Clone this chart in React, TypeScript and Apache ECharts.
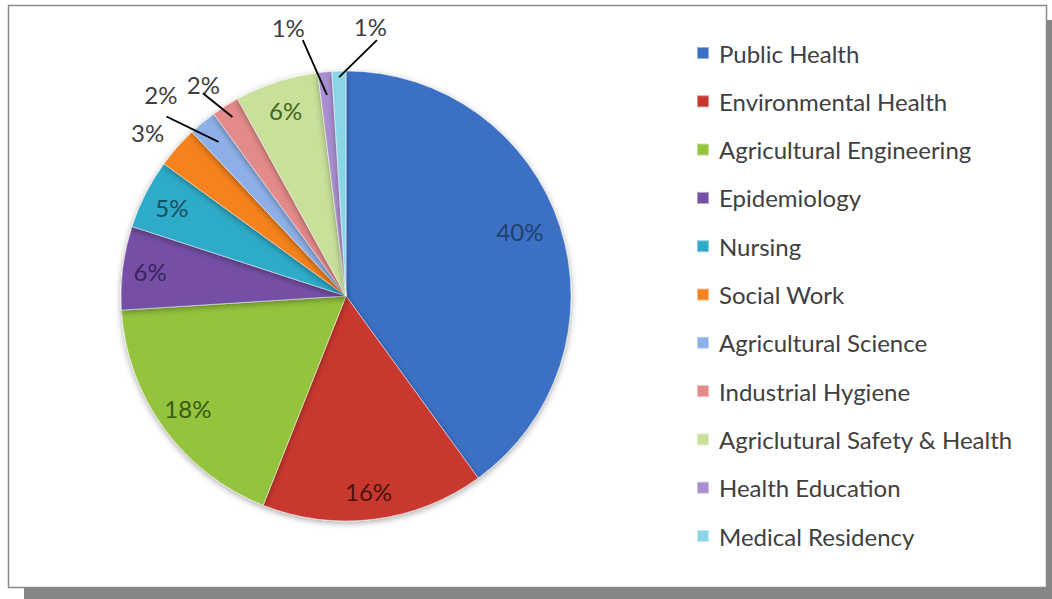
import React, { useEffect, useRef } from "react";
import * as echarts from "echarts";

const categories = [
  "Public Health",
  "Environmental Health",
  "Agricultural Engineering",
  "Epidemiology",
  "Nursing",
  "Social Work",
  "Agricultural Science",
  "Industrial Hygiene",
  "Agriclutural Safety & Health",
  "Health Education",
  "Medical Residency",
];
const shares = [40, 16, 18, 6, 5, 3, 2, 2, 6, 1, 1];
const sliceColors = [
  "#3a6fc4",
  "#c8372f",
  "#94c43c",
  "#7550a5",
  "#2eabc8",
  "#f5821e",
  "#8eb0e8",
  "#e38a8a",
  "#c8e09a",
  "#a98fd0",
  "#8ad6e6",
];
const labelColors = [
  "#20406e",
  "#4a1410",
  "#3b5a12",
  "#3a2460",
  "#174f5e",
  "#404040",
  "#404040",
  "#404040",
  "#46661c",
  "#404040",
  "#404040",
];
// label placement: null = inside the slice, number = outside with that line length
const outsideLineLen: (number | null)[] = [null, null, null, null, null, 8, 30, 14, null, 32, 32];
const showLeader = [false, false, false, false, false, false, true, true, false, true, true];
const lineInset = [0, 0, 0, 0, 0, 0, 25, 13, 0, 23, 6];
const labelNudge: [number, number][] = [
  [-12, -4], [-2, 2], [0, -2], [-2, 0], [0, 0],
  [-2, -9], [-1, -5], [7, -10], [0, 0], [-12, -13], [54, -13],
];
const lineEndNudge: [number, number][] = [
  [0, 0], [0, 0], [0, 0], [0, 0], [0, 0],
  [0, 0], [-17, 17], [-15, -1], [0, 0], [-19, 0], [39, 1],
];

const CX = 346;
const CY = 296;
const R = 225;

export default function App() {
  const ref = useRef<HTMLDivElement>(null);
  useEffect(() => {
    if (!ref.current) return;
    const chart = echarts.init(ref.current, null, { renderer: "svg" });
    const font = "Lato, 'Open Sans', sans-serif";
    const total = shares.reduce((a, b) => a + b, 0);
    const mainData = categories.map((name, i) => ({
      name,
      value: shares[i],
      itemStyle: { color: sliceColors[i] },
    }));
    const labelData = categories.map((name, i) => {
      const isOut = outsideLineLen[i] != null;
      return {
        name,
        value: shares[i],
        label: {
          position: isOut ? "outside" : "inside",
          color: labelColors[i],
        },
        labelLine: {
          show: false,
          length: outsideLineLen[i] ?? 10,
          length2: 0,
        },
      };
    });
    // leader lines for the small slices, derived from the slice mid-angles
    const leaders: any[] = [];
    let cum = 0;
    shares.forEach((v, i) => {
      const mid = ((cum + v / 2) / total) * Math.PI * 2;
      cum += v;
      if (!showLeader[i]) return;
      const dx = Math.sin(mid);
      const dy = -Math.cos(mid);
      const L = outsideLineLen[i] ?? 0;
      const s = lineInset[i];
      const e = lineEndNudge[i];
      leaders.push({
        type: "line",
        z: 20,
        shape: {
          x1: CX + dx * (R - s),
          y1: CY + dy * (R - s),
          x2: CX + dx * (R + L) + e[0],
          y2: CY + dy * (R + L) + e[1],
        },
        style: { stroke: "#000000", lineWidth: 1.8 },
      });
    });
    chart.setOption({
      animation: false,
      backgroundColor: "#ffffff",
      graphic: [
        {
          type: "rect",
          shape: { x: 24, y: 588, width: 1028, height: 11 },
          style: { fill: "#858585" },
          z: -10,
        },
        {
          type: "rect",
          shape: { x: 1047, y: 20, width: 5, height: 579 },
          style: { fill: "#858585" },
          z: -10,
        },
        {
          type: "rect",
          shape: { x: 8.5, y: 5.5, width: 1038, height: 582 },
          style: { fill: "#ffffff", stroke: "#8a8a8a", lineWidth: 1.5 },
          z: -9,
        },
        ...leaders,
      ],
      legend: {
        orient: "vertical",
        left: 691,
        top: 36,
        itemWidth: 12,
        itemHeight: 12,
        itemGap: 24.3,
        icon: "rect",
        data: categories,
        textStyle: {
          fontFamily: font,
          fontSize: 24,
          lineHeight: 24,
          color: "#404040",
          padding: [0, 0, 0, 5],
        },
      },
      series: [
        {
          type: "pie",
          center: [CX, CY],
          radius: [0, R],
          startAngle: 90,
          clockwise: true,
          avoidLabelOverlap: false,
          itemStyle: {
            borderColor: "rgba(255,255,255,0.45)",
            borderWidth: 1,
            shadowColor: "rgba(0,0,0,0.35)",
            shadowBlur: 6,
            shadowOffsetY: 2,
          },
          label: { show: false },
          labelLine: { show: false },
          emphasis: { disabled: true },
          data: mainData,
        },
        {
          type: "pie",
          center: [CX, CY],
          radius: [160, R],
          startAngle: 90,
          clockwise: true,
          silent: true,
          avoidLabelOverlap: false,
          itemStyle: { color: "rgba(0,0,0,0)" },
          label: {
            show: true,
            fontFamily: font,
            fontSize: 24,
            formatter: "{c}%",
          },
          labelLine: { show: false },
          labelLayout: (p: any) => {
            const n = labelNudge[p.dataIndex];
            return { dx: n[0], dy: n[1] };
          },
          emphasis: { disabled: true },
          data: labelData,
        },
      ],
    });
    return () => chart.dispose();
  }, []);
  return (
    <div
      ref={ref}
      style={{ position: "fixed", left: 0, top: 0, width: 1052, height: 599 }}
    />
  );
}
